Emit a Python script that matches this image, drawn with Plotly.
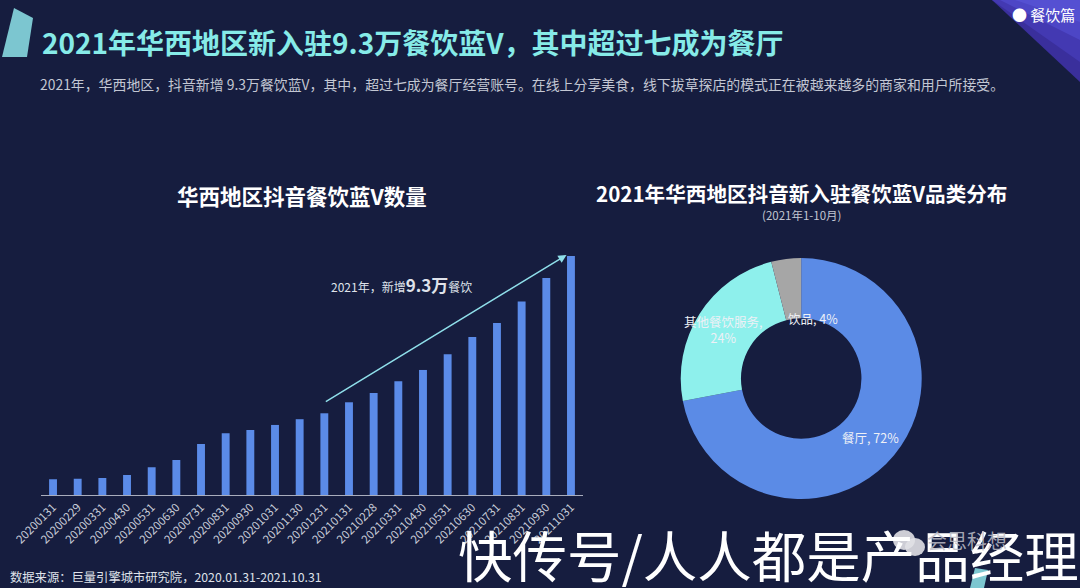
import plotly.graph_objects as go

W, H = 1080, 588
BG = "#161d3f"
FONT = "Noto Sans CJK SC"

# ---- data ----
dates = ["20200131", "20200229", "20200331", "20200430", "20200531", "20200630",
         "20200731", "20200831", "20200930", "20201031", "20201130", "20201231",
         "20210131", "20210228", "20210331", "20210430", "20210531", "20210630",
         "20210731", "20210831", "20210930", "20211031"]
counts_wan = [0.93, 0.96, 1.00, 1.18, 1.64, 2.07, 3.02, 3.65, 3.84, 4.14, 4.48,
              4.83, 5.48, 6.03, 6.72, 7.39, 8.32, 9.34, 10.17, 11.43, 12.83, 14.13]

cat_labels = ["餐厅", "其他餐饮服务", "饮品"]
cat_share = [72, 24, 4]
cat_colors = ["#5b8be6", "#8ef0ec", "#a6a6a6"]


def px(x):
    return x / W


def py(y):
    return 1 - y / H


fig = go.Figure()

fig.add_trace(go.Bar(
    x=dates, y=counts_wan, marker=dict(color="#5b8be8", line=dict(width=0)),
    xaxis="x", yaxis="y", showlegend=False, hoverinfo="x+y"))

fig.add_trace(go.Pie(
    labels=cat_labels, values=cat_share, marker=dict(colors=cat_colors, line=dict(width=0)),
    hole=0.5, sort=False, direction="clockwise", rotation=0, textinfo="none",
    showlegend=False, domain=dict(x=[px(680.7), px(921.7)], y=[py(499), py(258)])))


def note(text, x, y, size, color, xanchor="center", bold=False):
    return dict(text=f"<b>{text}</b>" if bold else text, x=px(x), y=py(y),
                xref="paper", yref="paper", xanchor=xanchor, yanchor="middle",
                font=dict(family=FONT, size=size, color=color), showarrow=False)


annotations = [
    note("2021年华西地区新入驻9.3万餐饮蓝V，其中超过七成为餐厅", 40, 42, 28, "#86ebe8", "left", True),
    note("2021年，华西地区，抖音新增 9.3万餐饮蓝V，其中，超过七成为餐厅经营账号。在线上分享美食，线下拔草探店的模式正在被越来越多的商家和用户所接受。",
         38, 84, 13.9, "#c3c7d3", "left"),
    note("● 餐饮篇", 1077, 15, 15, "#ffffff", "right"),
    note("华西地区抖音餐饮蓝V数量", 302, 196, 21.5, "#ffffff", "center", True),
    note("2021年华西地区抖音新入驻餐饮蓝V品类分布", 801, 193, 20.6, "#ffffff", "center", True),
    note("(2021年1-10月)", 801, 215, 11.5, "#c3c7d3"),
    note("2021年，新增<span style='font-size:17px'><b>9.3万</b></span>餐饮", 401, 285, 12, "#dfe2ea"),
    note(f"{cat_labels[0]}, {cat_share[0]}%", 870, 437, 12.5, "#eef0f6"),
    note(f"{cat_labels[1]},<br>{cat_share[1]}%", 723, 329, 12.5, "#eef0f6"),
    note(f"{cat_labels[2]}, {cat_share[2]}%", 813, 318, 12.5, "#eef0f6"),
    note("数据来源：巨量引擎城市研究院，2020.01.31-2021.10.31", 8, 577, 12.3, "#dfe2ea", "left"),
    note("快传号/人人都是产品经理", 456, 553, 54.5, "#ffffff", "left"),
    note("会思科想", 925, 540, 20, "rgba(190,190,200,0.85)", "left"),
    # arrow along the 2021 growth, anchored on the data
    dict(x=len(dates) - 1 - 0.18, y=counts_wan[-1] + 0.06, xref="x", yref="y",
         ax=11, ay=counts_wan[11] + 0.63, axref="x", ayref="y",
         text="", showarrow=True, arrowhead=2, arrowsize=1.1, arrowwidth=1.5,
         arrowcolor="#8fdfea"),
]


def poly(points):
    return "M " + " L ".join(f"{px(x):.5f},{py(y):.5f}" for x, y in points) + " Z"


shapes = [
    dict(type="path", xref="paper", yref="paper", path=poly([(14, 8), (33, 18), (27, 57), (2, 57)]),
         fillcolor="#7cc6d0", line=dict(width=0)),
    dict(type="path", xref="paper", yref="paper", path=poly([(992, 0), (1080, 0), (1080, 82)]),
         fillcolor="#3a2f9c", line=dict(width=0)),
    dict(type="path", xref="paper", yref="paper", path=poly([(992, 0), (1080, 0), (1080, 62)]),
         fillcolor="#4339b2", line=dict(width=0)),
    dict(type="path", xref="paper", yref="paper", path=poly([(1000, 0), (1080, 0), (1080, 40)]),
         fillcolor="#4d46c6", line=dict(width=0)),
    dict(type="path", xref="paper", yref="paper", path=poly([(1015, 0), (1080, 0), (1080, 22)]),
         fillcolor="#5550d2", line=dict(width=0)),
    # wechat-like bubbles
    dict(type="circle", xref="paper", yref="paper", x0=px(893), x1=px(915), y0=py(550), y1=py(530),
         fillcolor="rgba(225,225,230,0.9)", line=dict(width=0), layer="above"),
    dict(type="circle", xref="paper", yref="paper", x0=px(905), x1=px(925), y0=py(556), y1=py(538),
         fillcolor="rgba(225,225,230,0.9)", line=dict(width=0), layer="above"),
    dict(type="path", xref="paper", yref="paper", path=poly([(975, 568), (988, 570), (984, 588), (970, 588)]),
         fillcolor="#7cc6d0", line=dict(width=0)),
]

fig.update_layout(
    width=W, height=H, autosize=False,
    margin=dict(l=0, r=0, t=0, b=0),
    paper_bgcolor=BG, plot_bgcolor=BG,
    font=dict(family=FONT, color="#c8ccd8"),
    bargap=0.68,
    xaxis=dict(domain=[px(40.7), px(583.3)], range=[-0.5, len(dates) - 0.5], type="category",
               showgrid=False, zeroline=False, showline=True, linecolor="#a9adbd", linewidth=1,
               ticks="", tickangle=-45, automargin=False,
               tickfont=dict(family=FONT, size=11.5, color="#c8ccd8")),
    yaxis=dict(domain=[py(495), py(250)], range=[0, 14.48], visible=False, showgrid=False),
    annotations=annotations,
    shapes=shapes,
)

fig.write_html("out.html", config={"displayModeBar": False},
               post_script="document.body.style.margin='0';document.body.style.overflow='hidden';")
